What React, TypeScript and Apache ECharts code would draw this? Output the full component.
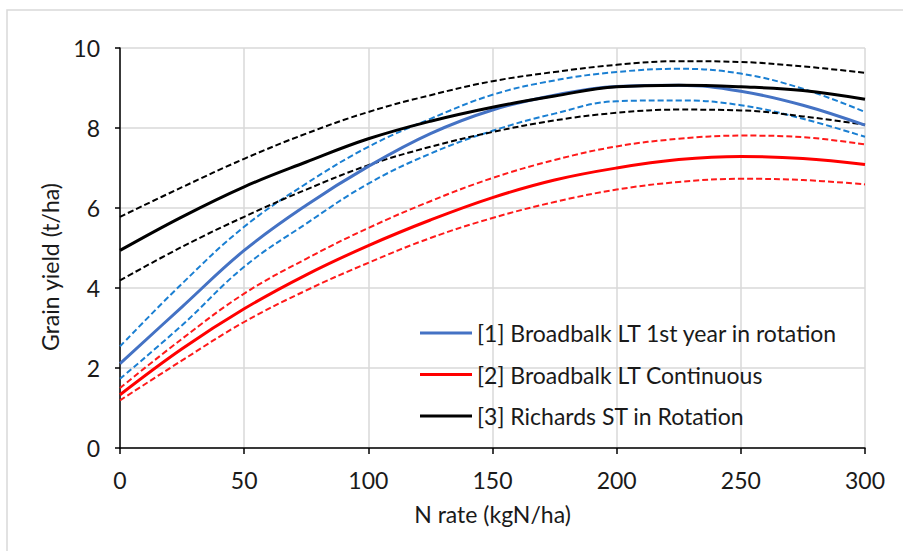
import React, { useEffect, useRef } from "react";
import * as echarts from "echarts";

const nRates = [0, 25, 50, 75, 100, 125, 150, 175, 200, 225, 250, 275, 300];

const bbRotation = [2.11, 3.53, 4.94, 6.07, 7.04, 7.86, 8.45, 8.82, 9.04, 9.07, 8.92, 8.57, 8.07];
const bbRotationUpper = [2.54, 4.11, 5.53, 6.61, 7.53, 8.23, 8.83, 9.19, 9.4, 9.48, 9.36, 8.98, 8.4];
const bbRotationLower = [1.73, 3.07, 4.53, 5.61, 6.61, 7.36, 7.93, 8.36, 8.67, 8.69, 8.57, 8.23, 7.78];

const bbContinuous = [1.33, 2.48, 3.48, 4.33, 5.06, 5.7, 6.26, 6.7, 7.0, 7.21, 7.29, 7.24, 7.09];
const bbContinuousUpper = [1.5, 2.73, 3.86, 4.73, 5.5, 6.17, 6.75, 7.2, 7.54, 7.73, 7.81, 7.77, 7.59];
const bbContinuousLower = [1.19, 2.19, 3.15, 3.94, 4.63, 5.25, 5.75, 6.15, 6.46, 6.65, 6.73, 6.7, 6.59];

const richards = [4.94, 5.78, 6.53, 7.15, 7.73, 8.17, 8.52, 8.8, 9.03, 9.07, 9.03, 8.94, 8.72];
const richardsUpper = [5.78, 6.52, 7.23, 7.86, 8.4, 8.82, 9.17, 9.4, 9.58, 9.67, 9.65, 9.54, 9.38];
const richardsLower = [4.19, 5.03, 5.78, 6.46, 7.07, 7.53, 7.9, 8.19, 8.38, 8.46, 8.44, 8.29, 8.08];

const seriesNames = [
  "[1] Broadbalk LT 1st year in rotation",
  "[2] Broadbalk LT Continuous",
  "[3] Richards ST in Rotation",
];
const xAxisTitle = "N rate (kgN/ha)";
const yAxisTitle = "Grain yield (t/ha)";

const FONT = "Lato, 'Noto Sans', sans-serif";
const TEXT_COLOR = "#1a1a1a";
const FS = 23;

function pairs(ys: number[]) {
  return nRates.map((x, i) => [x, ys[i]]);
}

export default function App() {
  const ref = useRef<HTMLDivElement>(null);

  useEffect(() => {
    if (!ref.current) return;
    const chart = echarts.init(ref.current, undefined, { renderer: "svg" });

    const solid = (name: string, data: number[], color: string, z: number) => ({
      name,
      type: "line",
      data: pairs(data),
      smooth: 0.4,
      symbol: "none",
      z,
      lineStyle: { color, width: 3, type: "solid" },
      itemStyle: { color },
    });
    const dashed = (name: string, data: number[], color: string, z: number) => ({
      name,
      type: "line",
      data: pairs(data),
      smooth: 0.4,
      symbol: "none",
      z,
      lineStyle: { color, width: 2, type: [6, 3] },
      itemStyle: { color },
    });

    chart.setOption({
      animation: false,
      backgroundColor: "#ffffff",
      textStyle: { fontFamily: FONT },
      graphic: [
        {
          type: "rect",
          shape: { x: 7, y: 10, width: 1000, height: 1000 },
          style: { fill: "none", stroke: "#d9d9d9", lineWidth: 1.5 },
          silent: true,
          z: -10,
        },
        {
          type: "text",
          x: 50,
          y: 267,
          rotation: Math.PI / 2,
          style: {
            text: yAxisTitle,
            fontFamily: FONT,
            fontSize: FS,
            fill: TEXT_COLOR,
            align: "center",
            verticalAlign: "middle",
          },
          silent: true,
        },
      ],
      grid: { left: 120, right: 38, top: 48, bottom: 103, containLabel: false },
      legend: {
        data: seriesNames,
        orient: "vertical",
        left: 420,
        top: 321,
        padding: 0,
        itemWidth: 52,
        itemHeight: 3,
        itemGap: 17.5,
        icon: "rect",
        textStyle: { fontFamily: FONT, fontSize: FS, color: TEXT_COLOR, lineHeight: 24 },
        selectedMode: false,
      },
      xAxis: {
        type: "value",
        min: 0,
        max: 300,
        interval: 50,
        name: xAxisTitle,
        nameLocation: "middle",
        nameGap: 54,
        nameTextStyle: { fontFamily: FONT, fontSize: FS, color: TEXT_COLOR },
        axisLine: { show: true, onZero: false, lineStyle: { color: "#000", width: 1.5 } },
        axisTick: { show: true, length: 6, lineStyle: { color: "#000", width: 1.5 } },
        axisLabel: { fontFamily: FONT, fontSize: FS, color: TEXT_COLOR, margin: 20 },
        splitLine: { show: true, lineStyle: { color: "#d9d9d9", width: 1.5 } },
      },
      yAxis: {
        type: "value",
        min: 0,
        max: 10,
        interval: 2,
        axisLine: { show: true, onZero: false, lineStyle: { color: "#000", width: 1.5 } },
        axisTick: { show: true, length: 5, lineStyle: { color: "#000", width: 1.5 } },
        axisLabel: { fontFamily: FONT, fontSize: FS, color: TEXT_COLOR, margin: 20 },
        splitLine: { show: true, lineStyle: { color: "#d9d9d9", width: 1.5 } },
      },
      series: [
        dashed("rotUpper", bbRotationUpper, "#1a7fd2", 2),
        dashed("rotLower", bbRotationLower, "#1a7fd2", 2),
        dashed("contUpper", bbContinuousUpper, "#ff1a1a", 2),
        dashed("contLower", bbContinuousLower, "#ff1a1a", 2),
        dashed("richUpper", richardsUpper, "#000000", 2),
        dashed("richLower", richardsLower, "#000000", 2),
        solid(seriesNames[0], bbRotation, "#4472c4", 3),
        solid(seriesNames[1], bbContinuous, "#ff0000", 3),
        solid(seriesNames[2], richards, "#000000", 4),
      ],
    });

    return () => chart.dispose();
  }, []);

  return (
    <div
      ref={ref}
      style={{ position: "fixed", left: 0, top: 0, width: 903, height: 551, background: "#fff" }}
    />
  );
}
